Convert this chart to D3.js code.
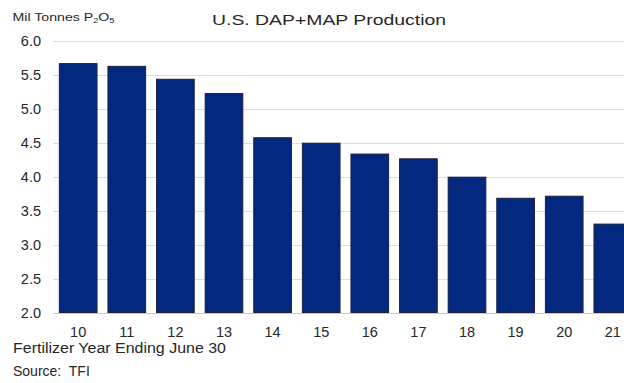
<!DOCTYPE html>
<html>
<head>
<meta charset="utf-8">
<script src="https://cdn.jsdelivr.net/npm/d3@7/dist/d3.min.js"></script>
<style>
  html, body { margin: 0; padding: 0; background: #fff; }
  svg { display: block; font-family: "Liberation Sans", Arial, sans-serif; }
</style>
</head>
<body>
<svg id="chart" width="624" height="383"></svg>
<script>
// Fertilizer years (ending June 30)
const years = ["10", "11", "12", "13", "14", "15", "16", "17", "18", "19", "20", "21"];
// U.S. DAP+MAP production, million tonnes P2O5
const production = [5.66, 5.62, 5.43, 5.22, 4.57, 4.49, 4.33, 4.26, 3.99, 3.68, 3.71, 3.30];
// Y axis ticks
const yTicks = [2.0, 2.5, 3.0, 3.5, 4.0, 4.5, 5.0, 5.5, 6.0];

const svg = d3.select("#chart");

const x = d3.scaleBand()
  .domain(years)
  .range([54, 637])
  .paddingInner(0.225)
  .paddingOuter(0.11);

const y = d3.scaleLinear()
  .domain([2, 6])
  .range([312.5, 40.5]);

// Horizontal gridlines
svg.append("g")
  .selectAll("line")
  .data(yTicks)
  .join("line")
  .attr("x1", 53)
  .attr("x2", 624)
  .attr("y1", d => Math.round(y(d)) + 0.5)
  .attr("y2", d => Math.round(y(d)) + 0.5)
  .attr("stroke", d => d === 2 ? "#c8c8c8" : "#dedede")
  .attr("stroke-width", 1.2);

// Y tick labels
svg.append("g")
  .selectAll("text")
  .data(yTicks)
  .join("text")
  .attr("x", 41)
  .attr("y", d => y(d) + 5)
  .attr("text-anchor", "end")
  .attr("font-size", 14.5)
  .attr("fill", "#262626")
  .text(d => d.toFixed(1));

// Bars
svg.append("g")
  .selectAll("rect")
  .data(years.map((yr, i) => ({ yr, v: production[i] })))
  .join("rect")
  .attr("x", d => x(d.yr))
  .attr("y", d => y(d.v))
  .attr("width", x.bandwidth())
  .attr("height", d => y(2) - y(d.v))
  .attr("fill", "#03287f")
  .attr("stroke", "#1b2140")
  .attr("stroke-width", 1);

// X tick labels
svg.append("g")
  .selectAll("text")
  .data(years)
  .join("text")
  .attr("x", d => x(d) + x.bandwidth() / 2)
  .attr("y", 336.5)
  .attr("text-anchor", "middle")
  .attr("font-size", 14.5)
  .attr("fill", "#262626")
  .text(d => d);

// Title
svg.append("text")
  .attr("x", 212)
  .attr("y", 25)
  .attr("font-size", 15.5)
  .attr("fill", "#262626")
  .attr("textLength", 234)
  .attr("lengthAdjust", "spacingAndGlyphs")
  .text("U.S. DAP+MAP Production");

// Units label with subscripts
const units = svg.append("text")
  .attr("x", 12.5)
  .attr("y", 20.5)
  .attr("font-size", 11.5)
  .attr("fill", "#262626")
  .attr("textLength", 102)
  .attr("lengthAdjust", "spacingAndGlyphs");
units.append("tspan").text("Mil Tonnes P");
units.append("tspan").attr("font-size", 7.5).attr("dy", 2.5).text("2");
units.append("tspan").attr("dy", -2.5).text("O");
units.append("tspan").attr("font-size", 7.5).attr("dy", 2.5).text("5");

// Footer notes
svg.append("text")
  .attr("x", 13)
  .attr("y", 353)
  .attr("font-size", 14)
  .attr("fill", "#262626")
  .attr("textLength", 213)
  .attr("lengthAdjust", "spacingAndGlyphs")
  .text("Fertilizer Year Ending June 30");

svg.append("text")
  .attr("x", 13)
  .attr("y", 376)
  .attr("font-size", 14)
  .attr("fill", "#262626")
  .attr("xml:space", "preserve")
  .text("Source:  TFI");
</script>
</body>
</html>
